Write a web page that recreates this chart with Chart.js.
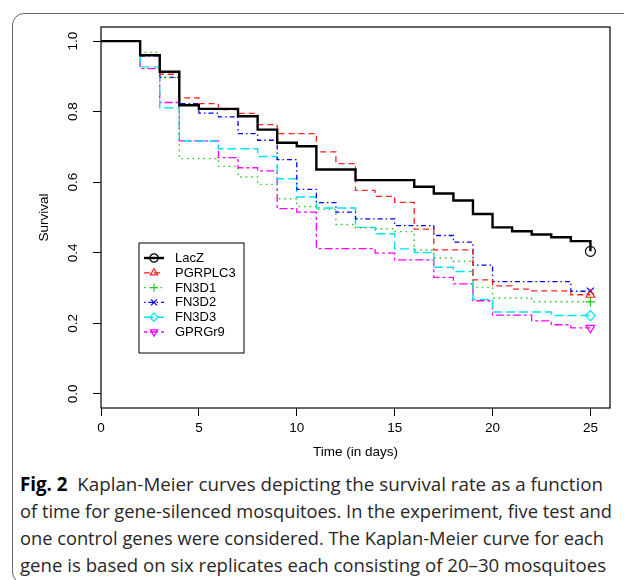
<!DOCTYPE html>
<html>
<head>
<meta charset="utf-8">
<script src="https://cdn.jsdelivr.net/npm/chart.js@4/dist/chart.umd.min.js"></script>
<style>
html, body { margin: 0; padding: 0; background: #fff; overflow: hidden; }
#wrap { position: relative; width: 624px; height: 580px; overflow: hidden; }
#frame { position: absolute; left: 12px; top: 13px; width: 720px; height: 571px; border: 1.5px solid #666; border-radius: 12px; box-sizing: border-box; }
canvas { position: absolute; left: 0; top: 0; }
.cap { position: absolute; left: 20px; font-family: "Open Sans", sans-serif; font-size: 19px; line-height: 27px; color: #2a2627; white-space: nowrap; transform-origin: 0 50%; }
.cap b { color: #000; }
</style>
</head>
<body>
<div id="wrap">
  <div id="frame"></div>
  <canvas id="c" width="624" height="464"></canvas>
  <div class="cap" style="top:471px" data-w="583"><b>Fig. 2</b>&nbsp; Kaplan-Meier curves depicting the survival rate as a function</div>
  <div class="cap" style="top:498px" data-w="592">of time for gene-silenced mosquitoes. In the experiment, five test and</div>
  <div class="cap" style="top:525px" data-w="584">one control genes were considered. The Kaplan-Meier curve for each</div>
  <div class="cap" style="top:552px" data-w="586">gene is based on six replicates each consisting of 20–30 mosquitoes</div>
</div>
<script>
// fit caption lines to the widths in the figure
document.querySelectorAll('.cap').forEach(el => {
    const w = el.getBoundingClientRect().width;
    el.style.transform = 'scaleX(' + (el.dataset.w / w) + ')';
});

const days = [0, 1, 2, 3, 4, 5, 6, 7, 8, 9, 10, 11, 12, 13, 14, 15, 16, 17, 18, 19, 20, 21, 22, 23, 24, 25];
const geneNames = ["LacZ", "PGRPLC3", "FN3D1", "FN3D2", "FN3D3", "GPRGr9"];

const lacZ    = [1, 1, 0.960, 0.913, 0.818, 0.808, 0.808, 0.787, 0.749, 0.712, 0.702, 0.636, 0.636, 0.606, 0.606, 0.606, 0.587, 0.568, 0.548, 0.510, 0.472, 0.461, 0.452, 0.444, 0.433, 0.404];
const pgrplc3 = [1, 1, 0.960, 0.906, 0.839, 0.823, 0.806, 0.795, 0.763, 0.738, 0.738, 0.686, 0.653, 0.577, 0.560, 0.543, 0.467, 0.408, 0.408, 0.323, 0.306, 0.297, 0.292, 0.292, 0.281, 0.281];
const fn3d1   = [1, 1, 0.968, 0.897, 0.667, 0.667, 0.645, 0.615, 0.594, 0.553, 0.531, 0.523, 0.480, 0.471, 0.468, 0.460, 0.408, 0.385, 0.376, 0.302, 0.272, 0.272, 0.261, 0.261, 0.261, 0.261];
const fn3d2   = [1, 1, 0.958, 0.897, 0.823, 0.796, 0.785, 0.738, 0.719, 0.664, 0.580, 0.542, 0.515, 0.496, 0.496, 0.477, 0.477, 0.449, 0.430, 0.365, 0.318, 0.318, 0.318, 0.318, 0.291, 0.291];
const fn3d3   = [1, 1, 0.927, 0.811, 0.717, 0.717, 0.695, 0.695, 0.673, 0.610, 0.558, 0.527, 0.527, 0.472, 0.454, 0.411, 0.401, 0.359, 0.347, 0.268, 0.232, 0.232, 0.232, 0.222, 0.222, 0.222];
const gprgr9  = [1, 1, 0.922, 0.826, 0.717, 0.717, 0.670, 0.641, 0.632, 0.525, 0.515, 0.412, 0.412, 0.412, 0.399, 0.380, 0.380, 0.330, 0.312, 0.264, 0.223, 0.223, 0.207, 0.196, 0.187, 0.187];

const xTicks = [0, 5, 10, 15, 20, 25];
const yTicks = [0, 0.2, 0.4, 0.6, 0.8, 1.0];

const allSeries = [lacZ, pgrplc3, fn3d1, fn3d2, fn3d3, gprgr9];
const colors = ['#000000', '#ff2020', '#22cc22', '#0000ff', '#00e5ee', '#ff00ff'];
const dashes = [[], [6, 4], [1.5, 4], [1.5, 3, 5, 3], [9, 4], [3, 3, 8, 3]];
const widths = [2.4, 1.3, 1.4, 1.3, 1.4, 1.3];
const markers = ['circle', 'triangle', 'cross', 'crossRot', 'rectRot', 'triangle'];
const rotations = [0, 0, 0, 0, 0, 180];

const FONT = "'Liberation Sans', Arial, sans-serif";

const datasets = allSeries.map((vals, i) => ({
    label: geneNames[i],
    data: days.map((d, j) => ({ x: d, y: vals[j] })),
    stepped: 'before',
    borderColor: colors[i],
    borderDash: dashes[i],
    borderWidth: widths[i],
    fill: false,
    pointStyle: markers[i],
    pointRotation: rotations[i],
    pointRadius: ctx => ctx.dataIndex === days.length - 1 ? 5 : 0,
    pointBorderWidth: 1.2,
    pointBackgroundColor: 'rgba(0,0,0,0)',
    pointBorderColor: colors[i],
    pointHoverRadius: 0
}));

function drawMarker(ctx, style, rot, x, y, r) {
    ctx.save();
    ctx.translate(x, y);
    ctx.rotate(rot * Math.PI / 180);
    ctx.beginPath();
    if (style === 'circle') {
        ctx.arc(0, 0, r, 0, Math.PI * 2);
    } else if (style === 'triangle') {
        ctx.moveTo(0, -r);
        ctx.lineTo(r * 0.866, r * 0.5);
        ctx.lineTo(-r * 0.866, r * 0.5);
        ctx.closePath();
    } else if (style === 'cross') {
        ctx.moveTo(-r, 0); ctx.lineTo(r, 0);
        ctx.moveTo(0, -r); ctx.lineTo(0, r);
    } else if (style === 'crossRot') {
        const a = r * 0.707;
        ctx.moveTo(-a, -a); ctx.lineTo(a, a);
        ctx.moveTo(a, -a); ctx.lineTo(-a, a);
    } else if (style === 'rectRot') {
        ctx.moveTo(0, -r); ctx.lineTo(r, 0); ctx.lineTo(0, r); ctx.lineTo(-r, 0);
        ctx.closePath();
    }
    ctx.stroke();
    ctx.restore();
}

const boxAndLegend = {
    id: 'boxAndLegend',
    afterDraw(chart) {
        const ctx = chart.ctx;
        const a = chart.chartArea;
        const ys = chart.scales.y;
        ctx.save();
        // plot frame
        ctx.strokeStyle = '#000';
        ctx.lineWidth = 1.2;
        ctx.setLineDash([]);
        ctx.strokeRect(a.left, a.top, a.right - a.left, a.bottom - a.top);

        // y tick labels, rotated like R
        ctx.fillStyle = '#000';
        ctx.font = '13.5px ' + FONT;
        ctx.textAlign = 'center';
        ctx.textBaseline = 'middle';
        yTicks.forEach(v => {
            ctx.save();
            ctx.translate(73, ys.getPixelForValue(v));
            ctx.rotate(-Math.PI / 2);
            ctx.fillText(v.toFixed(1), 0, 0);
            ctx.restore();
        });

        // legend
        const lx = 139, ly = 243, lw = 105, lh = 110;
        ctx.fillStyle = '#fff';
        ctx.fillRect(lx, ly, lw, lh);
        ctx.strokeStyle = '#000';
        ctx.lineWidth = 1;
        ctx.strokeRect(lx, ly, lw, lh);
        ctx.font = '13px ' + FONT;
        ctx.textAlign = 'left';
        geneNames.forEach((name, i) => {
            const y = ly + 15 + i * 14.8;
            ctx.strokeStyle = colors[i];
            ctx.lineWidth = widths[i];
            ctx.setLineDash(dashes[i]);
            ctx.beginPath();
            ctx.moveTo(lx + 5, y);
            ctx.lineTo(lx + 25, y);
            ctx.stroke();
            ctx.setLineDash([]);
            ctx.lineWidth = 1.2;
            drawMarker(ctx, markers[i], rotations[i], lx + 15, y, 4.2);
            ctx.fillStyle = '#000';
            ctx.fillText(name, lx + 36, y + 0.5);
        });
        ctx.restore();
    }
};

new Chart(document.getElementById('c'), {
    type: 'line',
    data: { datasets },
    options: {
        responsive: false,
        animation: false,
        events: [],
        layout: { padding: { left: 28, top: 27, right: 14, bottom: 0 } },
        plugins: { legend: { display: false }, tooltip: { enabled: false } },
        scales: {
            x: {
                type: 'linear',
                min: 0,
                max: 26,
                afterBuildTicks: s => { s.ticks = xTicks.map(v => ({ value: v })); },
                afterFit: s => { s.height = 56; },
                ticks: { color: '#000', font: { family: FONT, size: 13.5 }, padding: 4, maxRotation: 0, autoSkip: false },
                grid: { drawOnChartArea: false, color: '#000', tickLength: 8, tickWidth: 1 },
                border: { display: false },
                title: { display: true, text: 'Time (in days)', color: '#000', font: { family: FONT, size: 13.5 }, padding: { top: 2, bottom: 4 } }
            },
            y: {
                type: 'linear',
                min: -0.04,
                max: 1.04,
                afterBuildTicks: s => { s.ticks = yTicks.map(v => ({ value: v })); },
                afterFit: s => { s.width = 73; },
                ticks: { display: false },
                grid: { drawOnChartArea: false, color: '#000', tickLength: 8, tickWidth: 1 },
                border: { display: false },
                title: { display: true, text: 'Survival', color: '#000', font: { family: FONT, size: 13.5 }, padding: { top: 8, bottom: 0 } }
            }
        }
    },
    plugins: [boxAndLegend]
});
</script>
</body>
</html>
